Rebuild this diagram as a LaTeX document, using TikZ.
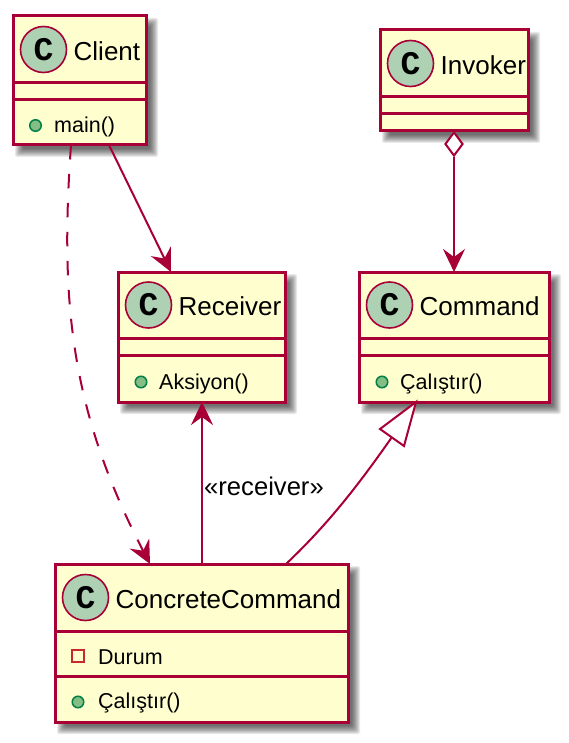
\documentclass[tikz,border=0pt]{standalone}
\usepackage{fontspec}
\setmainfont{Liberation Sans}
\newfontfamily\spotfont{Liberation Mono}
\usetikzlibrary{arrows.meta,shapes.geometric}
\definecolor{umlline}{HTML}{A80036}
\definecolor{umlfill}{HTML}{FEFECE}
\definecolor{spotfill}{HTML}{ADD1B2}
\definecolor{pubfill}{HTML}{84BE84}
\definecolor{publine}{HTML}{038048}
\definecolor{privline}{HTML}{C82930}
\tikzset{
  x=1pt,y=-1pt,
  umlbox/.style={draw=umlline,line width=3pt,fill=umlfill,inner sep=0pt,outer sep=0pt,rectangle},
  divider/.style={draw=umlline,line width=3pt},
  spot/.style={circle,draw=umlline,line width=1.6pt,fill=spotfill,minimum size=46pt,inner sep=0pt,font=\fontsize{33}{33}\selectfont\spotfont\bfseries,text=black},
  title/.style={anchor=west,inner sep=0pt,font=\fontsize{26}{30}\selectfont,text=black},
  member/.style={anchor=west,inner sep=0pt,font=\fontsize{21.5}{24}\selectfont,text=black},
  pub/.style={circle,draw=publine,line width=1.5pt,fill=pubfill,minimum size=11.5pt,inner sep=0pt},
  priv/.style={rectangle,draw=privline,line width=1.5pt,minimum size=12pt,inner sep=0pt},
  conn/.style={draw=umlline,line width=2pt},
  barb/.style={-{Stealth[inset=8pt,length=23pt,width=22pt,fill=umlline]}},
  tag/.style={inner sep=0pt,font=\fontsize{25.6}{30}\selectfont,text=black},
}
\newcommand{\umlshadow}[4]{%
  \foreach \s in {-3,-2,-1,0,1,2,3,4,5}{%
    \fill[black,opacity=0.085,rounded corners=2pt] (#1+7-\s,#2+7-\s) rectangle (#3+7+\s,#4+7+\s);}}
\newcommand{\umlclass}[8]{% name x1 y1 x2 y2 d1 d2 title
  \umlshadow{#2}{#3}{#4}{#5}
  \node[umlbox,minimum width=#4pt-#2pt,minimum height=#5pt-#3pt] (#1) at ({(#2+#4)/2},{(#3+#5)/2}) {};
  \draw[divider] (#1.west |- 0,#6) -- (#1.east |- 0,#6);
  \draw[divider] (#1.west |- 0,#7) -- (#1.east |- 0,#7);
  \node[spot] (#1spot) at (#2+30.5,{(#3+#6)/2}) {C};
  \node[title] (#1title) at (#2+60.5,{(#3+#6)/2+1.5}) {#8};
}
\begin{document}
\begin{tikzpicture}
\useasboundingbox (0,0) rectangle (569,743);
\umlclass{client}{13}{16}{146}{145}{83}{100}{Client}
\umlclass{invoker}{380}{30}{528}{131}{97}{114}{Invoker}
\umlclass{receiver}{118}{272}{285}{402}{338}{355}{Receiver}
\umlclass{command}{359}{272}{549}{402}{338}{355}{Command}
\umlclass{concrete}{55}{564}{348}{722}{631}{676}{ConcreteCommand}
\node[pub] (p1) at (35.5,125.5) {};
\node[member] (m1) at (54,126.5) {main()};
\node[pub] (p2) at (141,382) {};
\node[member] (m2) at (159,384) {Aksiyon()};
\node[pub] (p3) at (382,382) {};
\node[member] (m3) at (400,384) {Çalıştır()};
\node[priv] (p4) at (78,656) {};
\node[member] (m4) at (98,657) {Durum};
\node[pub] (p5) at (78,702) {};
\node[member] (m5) at (98,703) {Çalıştır()};
\coordinate (a1) at (client.south -| 109,0);
\coordinate (a2) at (receiver.north -| 171,0);
\draw[conn,barb] (a1) -- (a2);
\coordinate (b1) at (client.south -| 71,0);
\coordinate (b2) at (concrete.north -| 150,0);
\draw[conn,barb,dash pattern=on 14.5pt off 14.5pt] (b1) .. controls (60,300) and (70,410) .. (b2);
\coordinate (c1) at (invoker.south -| 454,0);
\coordinate (c2) at (command.north -| 454,0);
\node[diamond,draw=umlline,line width=2pt,fill=white,minimum width=18pt,minimum height=24pt,inner sep=0pt,anchor=north] (dia) at (c1) {};
\draw[conn,barb] (dia.south) -- (c2);
\coordinate (d1) at (concrete.north -| 202,0);
\coordinate (d2) at (receiver.south -| 202,0);
\draw[conn,barb] (d1) -- (d2);
\node[tag] (lbl) at (264,486) {«receiver»};
\coordinate (e1) at (concrete.north -| 286,0);
\coordinate (e2) at (command.south -| 416,0);
\draw[conn] (e1) .. controls (325,527) and (355,490) .. (392,437);
\draw[conn,fill=white] (e2) -- (380,429) -- (404,446) -- cycle;
\end{tikzpicture}
\end{document}
